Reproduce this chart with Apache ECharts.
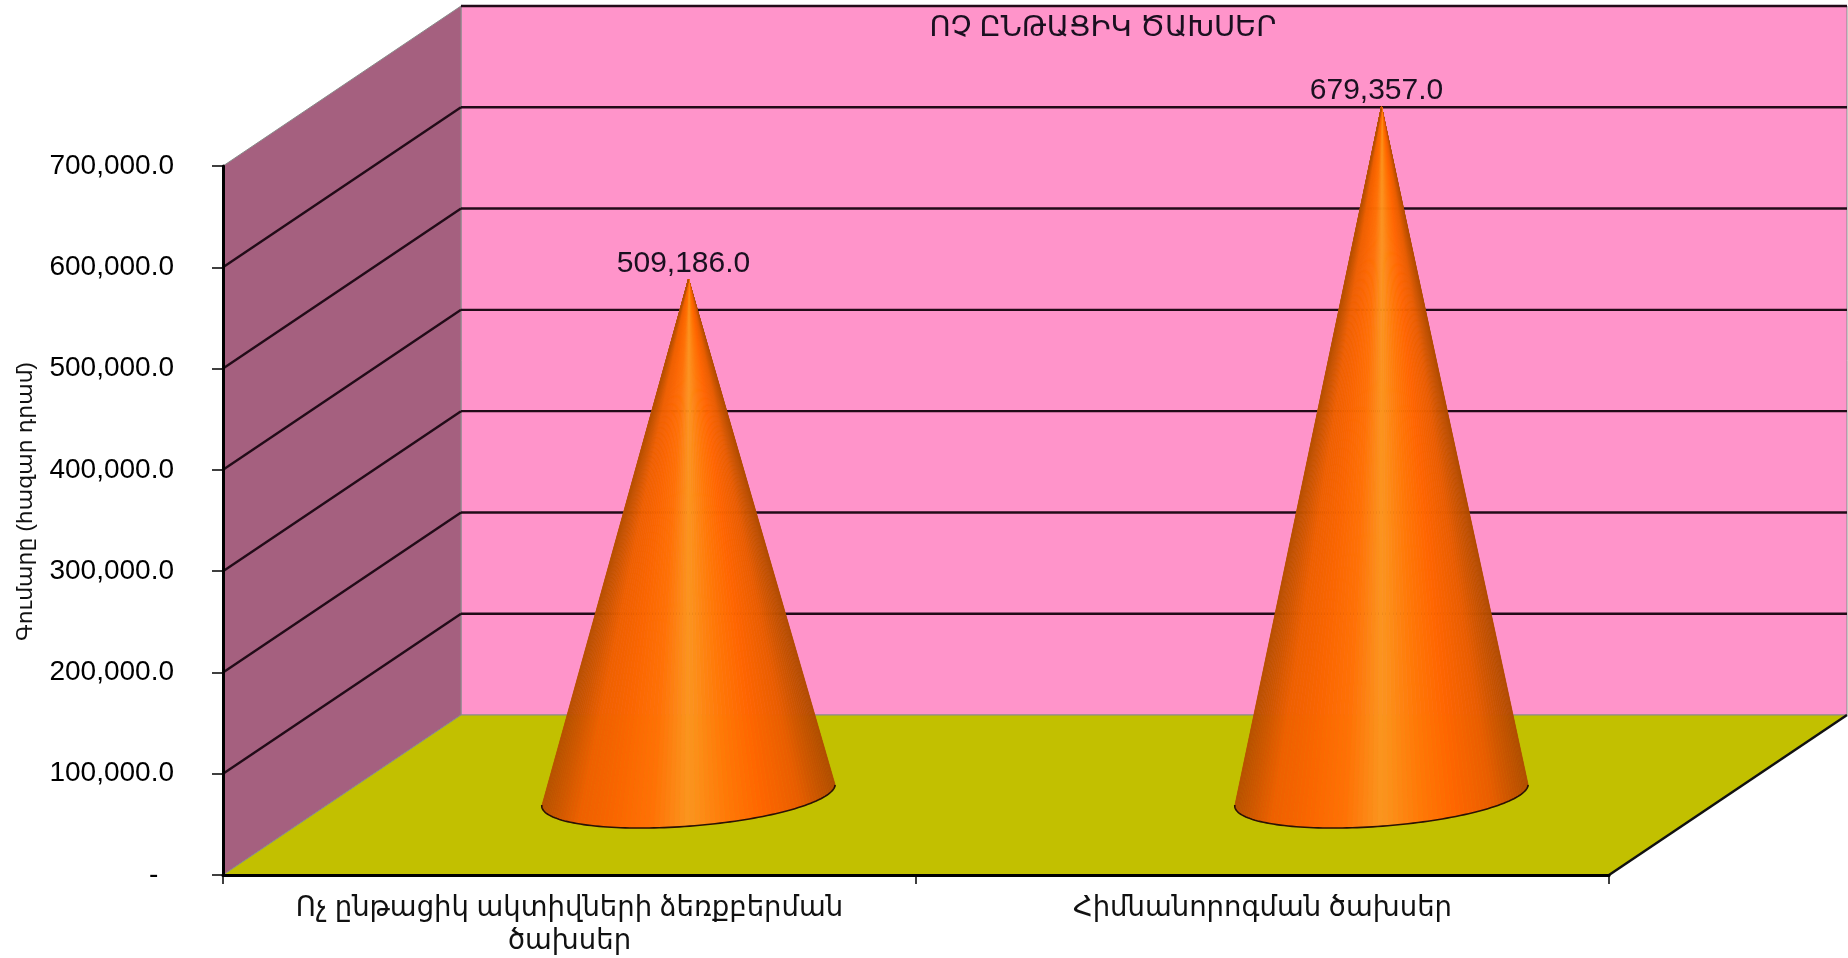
<!DOCTYPE html>
<html>
<head>
<meta charset="utf-8">
<title>ՈՉ ԸՆԹԱՑԻԿ ԾԱԽՍԵՐ</title>
<script src="https://cdn.jsdelivr.net/npm/echarts@6/dist/echarts.min.js"></script>
<style>
  html, body { margin: 0; background: #fff; }
  #chart { width: 1848px; height: 958px; }
</style>
</head>
<body>
<div id="chart"></div>
<script>
const chartTitle = "ՈՉ ԸՆԹԱՑԻԿ ԾԱԽՍԵՐ";
const yAxisName = "Գումարը (հազար դրամ)";
const categories = ["Ոչ ընթացիկ ակտիվների ձեռքբերման\nծախսեր", "Հիմնանորոգման ծախսեր"];
const costValues = [509186, 679357];
const costLabels = ["509,186.0", "679,357.0"];
const yTicks = [0, 100000, 200000, 300000, 400000, 500000, 600000, 700000];
const yTickLabels = ["-  ", "100,000.0", "200,000.0", "300,000.0", "400,000.0", "500,000.0", "600,000.0", "700,000.0"];

// oblique offset of the back wall from the front plane, in pixels
const DEPTH_X = 238;
const DEPTH_Y = 160;
const FONT = '"Liberation Sans", "DejaVu Sans", sans-serif';
const CONE_STOPS = ["#b85000", "#ee6000", "#fa6600", "#ff7206", "#fb951f", "#ff7a08", "#ff6600", "#ea5e00", "#b04c00"];

// floor, side wall and back wall
function renderPanels(params, api) {
  const box = params.coordSys;
  const left = box.x, right = box.x + box.width;
  const bottom = box.y + box.height, top = box.y;
  const poly = (points, fill) => ({
    type: "polygon",
    shape: { points },
    style: { fill, stroke: "#8a8a8a", lineWidth: 1 },
  });
  return {
    type: "group",
    children: [
      poly([[left + DEPTH_X, top - DEPTH_Y], [right + DEPTH_X, top - DEPTH_Y], [right + DEPTH_X, bottom - DEPTH_Y], [left + DEPTH_X, bottom - DEPTH_Y]], "#ff94ca"),
      poly([[left, top], [left + DEPTH_X, top - DEPTH_Y], [left + DEPTH_X, bottom - DEPTH_Y], [left, bottom]], "#a5607f"),
      poly([[left, bottom], [left + DEPTH_X, bottom - DEPTH_Y], [right + DEPTH_X, bottom - DEPTH_Y], [right, bottom]], "#c2c000"),
      {
        type: "line",
        shape: { x1: right, y1: bottom, x2: right + DEPTH_X, y2: bottom - DEPTH_Y },
        style: { stroke: "#111", lineWidth: 2.5 },
      },
    ],
  };
}

// each tick runs up the side wall and across the back wall
function renderGridLine(params, api) {
  const value = api.value(0);
  if (value === 0) return null;
  const box = params.coordSys;
  const y = api.coord([0, value])[1];
  const left = box.x, right = box.x + box.width;
  const lineStyle = { stroke: "#220b18", lineWidth: 2.4, fill: null };
  const children = [{
    type: "line",
    shape: { x1: left + DEPTH_X, y1: y - DEPTH_Y, x2: right + DEPTH_X, y2: y - DEPTH_Y },
    style: lineStyle,
  }];
  if (value < 700000) {
    children.push({
      type: "line",
      shape: { x1: left, y1: y, x2: left + DEPTH_X, y2: y - DEPTH_Y },
      style: lineStyle,
    });
  }
  return { type: "group", children };
}

function renderCone(params, api) {
  const index = api.value(0);
  const tip = api.coord([index, api.value(1)]);
  const floor = api.coord([index, 0]);
  const band = api.size([1, 0])[0];
  // cones stand half way into the floor
  const apex = [tip[0] + DEPTH_X / 2, tip[1] - DEPTH_Y / 2];
  const cx = floor[0] + DEPTH_X / 2, cy = floor[1] - DEPTH_Y / 2;
  const radius = band * 0.2117;
  const arcPoint = (t) => [
    cx + radius * Math.cos(t) - 4 * Math.sin(t),
    cy - 10 * Math.cos(t) + 31.5 * Math.sin(t),
  ];
  const children = [];
  const steps = 90;
  const arc = [];
  for (let i = 0; i <= steps; i++) arc.push(arcPoint(Math.PI * i / steps));
  for (let i = 0; i < steps; i++) {
    const mid = (arc[i][0] + arc[i + 1][0]) / 2;
    const color = echarts.color.lerp((mid - cx + radius) / (2 * radius), CONE_STOPS);
    children.push({
      type: "polygon",
      shape: { points: [apex, arc[i], arc[i + 1]] },
      style: { fill: color, stroke: color, lineWidth: 0.6 },
    });
  }
  children.push({
    type: "polyline",
    shape: { points: arc },
    style: { stroke: "#2a1204", lineWidth: 1.6, fill: null },
  });
  children.push({
    type: "text",
    style: {
      text: costLabels[index],
      x: apex[0] - 5,
      y: apex[1] - 1,
      align: "center",
      verticalAlign: "bottom",
      fill: "#1a1020",
      font: '30px ' + FONT,
    },
  });
  return { type: "group", children };
}

const chart = echarts.init(document.getElementById("chart"), null, { renderer: "canvas" });
chart.setOption({
  animation: false,
  backgroundColor: "#fff",
  title: {
    text: chartTitle,
    left: 1098,
    top: 8,
    textAlign: "center",
    textStyle: { fontFamily: FONT, fontSize: 29, fontWeight: "normal", color: "#1a1020" },
  },
  grid: { left: 223, top: 166, right: 239, bottom: 80 },
  xAxis: {
    type: "category",
    data: categories,
    z: 10,
    axisLine: { lineStyle: { color: "#000", width: 3 } },
    axisTick: { show: true, length: 9, lineStyle: { color: "#000", width: 1.5 } },
    axisLabel: { fontFamily: FONT, fontSize: 27.5, lineHeight: 33, color: "#111", margin: 17, interval: 0 },
  },
  yAxis: {
    type: "value",
    min: 0,
    max: 700000,
    interval: 100000,
    z: 10,
    name: yAxisName,
    nameLocation: "middle",
    nameGap: 186,
    nameTextStyle: { fontFamily: FONT, fontSize: 22, color: "#111", padding: [0, 0, 0, 38] },
    axisLine: { show: true, lineStyle: { color: "#000", width: 3 } },
    axisTick: { show: true, length: 11, lineStyle: { color: "#000", width: 1.5 } },
    splitLine: { show: false },
    axisLabel: {
      fontFamily: FONT,
      fontSize: 28,
      color: "#000",
      margin: 49,
      formatter: (value) => yTickLabels[yTicks.indexOf(value)],
    },
  },
  series: [
    { type: "custom", z: 1, silent: true, renderItem: renderPanels, data: [0] },
    { type: "custom", z: 2, silent: true, renderItem: renderGridLine, data: yTicks.map((v) => [v]), encode: { y: 0 } },
    {
      type: "custom",
      z: 3,
      silent: true,
      renderItem: renderCone,
      data: costValues.map((v, i) => [i, v]),
      encode: { x: 0, y: 1 },
    },
  ],
});
window.addEventListener("resize", () => chart.resize());
</script>
</body>
</html>
